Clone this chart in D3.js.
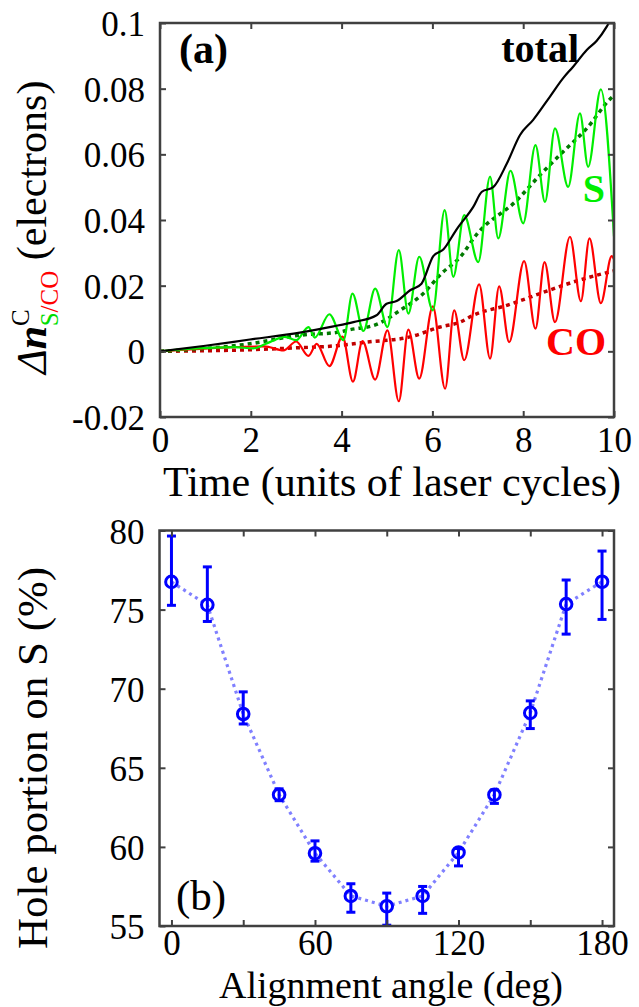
<!DOCTYPE html>
<html>
<head>
<meta charset="utf-8">
<script src="https://cdn.jsdelivr.net/npm/d3@7"></script>
<style>
  body { margin: 0; background: #fff; }
  text { font-family: "Liberation Serif", "Times New Roman", serif; }
</style>
</head>
<body>
<div id="chart"></div>
<script>
// panel (a): time in laser cycles, [t, value]
const totalPts = [[0,0],[1,0.0017],[1.98,0.0036],[3.08,0.0057],[3.82,0.0076],[4.26,0.0089],[4.77,0.011],[4.99,0.0145],[5.21,0.0153],[5.51,0.0186],[5.76,0.0206],[6.02,0.029],[6.24,0.031],[6.53,0.0371],[6.9,0.044],[7.09,0.0486],[7.34,0.050],[7.64,0.0572],[7.93,0.0659],[8.22,0.0705],[8.59,0.0776],[8.88,0.0832],[9.10,0.0867],[9.40,0.0918],[9.62,0.0946],[9.84,0.0989],[10,0.103]];
const sPts = [[0,0],[0.7,0.0008],[1.65,0.0013],[2.05,0.0009],[2.35,0.0024],[2.75,0.0044],[3.0,0.0034],[3.27,0.0074],[3.41,0.0042],[3.73,0.0113],[4.04,0.0034],[4.24,0.0176],[4.48,0.0062],[4.74,0.0191],[5.01,0.0074],[5.26,0.0308],[5.47,0.0115],[5.71,0.0288],[6.01,0.0125],[6.27,0.043],[6.46,0.0227],[6.70,0.0415],[7.01,0.0272],[7.27,0.0532],[7.45,0.0344],[7.72,0.055],[8.0,0.039],[8.27,0.0628],[8.48,0.0455],[8.70,0.0679],[8.99,0.0501],[9.25,0.0725],[9.43,0.0562],[9.71,0.0798],[10,0.035]];
const coPts = [[0,0],[1.5,0.0012],[2.3,0.0015],[2.72,0.0003],[3.0,0.0030],[3.27,-0.0014],[3.45,0.0023],[3.73,-0.0045],[4.02,0.0045],[4.25,-0.0092],[4.46,0.0031],[4.74,-0.0086],[5.01,0.0064],[5.26,-0.0152],[5.47,0.0066],[5.71,-0.0083],[6.01,0.0137],[6.28,-0.0114],[6.48,0.0125],[6.70,-0.0027],[7.03,0.0204],[7.27,-0.0022],[7.47,0.0198],[7.69,0.0028],[8.02,0.0275],[8.27,0.0069],[8.47,0.0272],[8.70,0.0089],[9.03,0.0349],[9.27,0.0153],[9.46,0.0344],[9.71,0.0147],[9.95,0.029],[10,0.028]];
const sAvgPts = [[0,0],[1.98,0.0023],[3.08,0.0049],[3.96,0.0059],[4.19,0.0066],[4.77,0.0082],[5.29,0.0125],[5.8,0.0176],[6.2,0.0237],[6.61,0.0287],[6.98,0.0357],[7.86,0.046],[8.37,0.0537],[8.88,0.0608],[9.4,0.0679],[9.91,0.0768],[10,0.078]];
const coAvgPts = [[0,0],[2,0.0005],[2.9,0.001],[3.96,0.0018],[4.55,0.0028],[5.51,0.0044],[6.17,0.0074],[6.61,0.0089],[6.9,0.011],[7.64,0.014],[8.37,0.0176],[9.1,0.0211],[9.91,0.0242],[10,0.0245]];
const timeTicks = [0, 2, 4, 6, 8, 10];
const deltaTicks = [-0.02, 0, 0.02, 0.04, 0.06, 0.08, 0.1];

// panel (b): hole portion on S vs alignment angle
const angles = [0, 15, 30, 45, 60, 75, 90, 105, 120, 135, 150, 165, 180];
const portion = [76.75, 75.3, 68.4, 63.3, 59.6, 56.9, 56.25, 56.9, 59.65, 63.3, 68.47, 75.35, 76.76];
const errLow = [75.27, 74.25, 67.77, 62.92, 59.1, 55.87, 55.05, 55.8, 58.8, 62.75, 67.48, 73.45, 74.38];
const errHigh = [79.65, 77.7, 69.8, 63.67, 60.38, 57.67, 57.08, 57.5, 59.9, 63.6, 69.23, 76.87, 78.7];
const angleTicks = [0, 30, 60, 90, 120, 150, 180];
const portionTicks = [55, 60, 65, 70, 75, 80];

const W = 639, H = 1007;
const svg = d3.select("#chart").append("svg").attr("width", W).attr("height", H);
const frameColor = "#404040";

// ---------- panel (a) ----------
const xA = d3.scaleLinear().domain([0, 10]).range([160, 614]);
const yA = d3.scaleLinear().domain([-0.02, 0.1]).range([417, 23]);

svg.append("clipPath").attr("id", "clipA").append("rect")
    .attr("x", 160).attr("y", 23).attr("width", 454).attr("height", 394);

const gA = svg.append("g").attr("clip-path", "url(#clipA)");
const lineA = d3.line().x(d => xA(d[0])).y(d => yA(d[1])).curve(d3.curveMonotoneX);

gA.append("path").datum(coAvgPts).attr("d", lineA)
    .attr("fill", "none").attr("stroke", "#c00000").attr("stroke-width", 3.5).attr("stroke-dasharray", "4,4");
gA.append("path").datum(sAvgPts).attr("d", lineA)
    .attr("fill", "none").attr("stroke", "#007a00").attr("stroke-width", 3.5).attr("stroke-dasharray", "4,4");
gA.append("path").datum(coPts).attr("d", lineA)
    .attr("fill", "none").attr("stroke", "#ff0000").attr("stroke-width", 2.2);
gA.append("path").datum(sPts).attr("d", lineA)
    .attr("fill", "none").attr("stroke", "#00ee00").attr("stroke-width", 2.2);
gA.append("path").datum(totalPts).attr("d", lineA)
    .attr("fill", "none").attr("stroke", "#000").attr("stroke-width", 2.2);

function frameAxes(x, y, xt, yt, xfmt, yfmt, x0, x1, y0, y1, xLabelY) {
    const bottom = svg.append("g").attr("transform", `translate(0,${y0})`)
        .call(d3.axisBottom(x).tickValues(xt).tickSize(-6).tickPadding(0).tickFormat(xfmt));
    bottom.selectAll("text").attr("y", xLabelY - y0).attr("dy", 0);
    bottom.selectAll("text").filter(function () { return this.textContent === ""; }).remove();
    svg.append("g").attr("transform", `translate(0,${y1})`)
        .call(d3.axisTop(x).tickValues(xt).tickSize(-6).tickFormat(""))
        .selectAll("text").remove();
    const left = svg.append("g").attr("transform", `translate(${x0},0)`)
        .call(d3.axisLeft(y).tickValues(yt).tickSize(-6).tickPadding(15).tickFormat(yfmt));
    left.selectAll("text").attr("dy", "0.36em");
    svg.append("g").attr("transform", `translate(${x1},0)`)
        .call(d3.axisRight(y).tickValues(yt).tickSize(-6).tickFormat(""))
        .selectAll("text").remove();
    svg.selectAll(".domain").remove();
    svg.selectAll(".tick line").attr("stroke", frameColor).attr("stroke-width", 2);
    svg.selectAll(".tick text").attr("fill", "#000").style("font-size", "35px")
        .style("font-family", "'Liberation Serif', serif");
    svg.append("rect").attr("x", x0).attr("y", y1).attr("width", x1 - x0).attr("height", y0 - y1)
        .attr("fill", "none").attr("stroke", frameColor).attr("stroke-width", 2.5);
}

frameAxes(xA, yA, timeTicks, deltaTicks, d3.format("d"), d => d === 0 ? "0" : String(d),
    160, 614, 417, 23, 452);

svg.append("text").attr("x", 179).attr("y", 63).style("font-size", "42px").style("font-weight", "bold").text("(a)");
svg.append("text").attr("x", 579).attr("y", 62).attr("text-anchor", "end").style("font-size", "40px").style("font-weight", "bold").text("total");
svg.append("text").attr("x", 605).attr("y", 202).attr("text-anchor", "end").attr("fill", "#00ee00").style("font-size", "40px").style("font-weight", "bold").text("S");
svg.append("text").attr("x", 606).attr("y", 355).attr("text-anchor", "end").attr("fill", "#ff0000").style("font-size", "40px").style("font-weight", "bold").text("CO");

svg.append("text").attr("x", 392).attr("y", 496).attr("text-anchor", "middle").style("font-size", "42px")
    .text("Time (units of laser cycles)");

const yTitleA = svg.append("text").attr("transform", "translate(46,374) rotate(-90)").style("font-size", "42px");
yTitleA.append("tspan").style("font-style", "italic").text("Δ");
yTitleA.append("tspan").style("font-style", "italic").style("font-weight", "bold").text("n");
yTitleA.append("tspan").attr("dy", -17).style("font-size", "25px").text("C");
yTitleA.append("tspan").attr("dx", -17).attr("dy", 29).style("font-size", "25px").attr("fill", "#00dd00").text("S");
yTitleA.append("tspan").style("font-size", "25px").attr("fill", "#ff0000").text("/CO");
yTitleA.append("tspan").attr("dy", -12).text(" (electrons)");

// ---------- panel (b) ----------
const xB = d3.scaleLinear().domain([-5, 185]).range([159.5, 614]);
const yB = d3.scaleLinear().domain([55, 80]).range([926, 530.5]);

const pts = angles.map((a, i) => ({ a, v: portion[i], lo: errLow[i], hi: errHigh[i] }));

svg.append("path").datum(pts)
    .attr("d", d3.line().x(d => xB(d.a)).y(d => yB(d.v)))
    .attr("fill", "none").attr("stroke", "#8080ff").attr("stroke-width", 3.2).attr("stroke-dasharray", "3,4");

const eb = svg.append("g").attr("stroke", "#0000ff").attr("stroke-width", 3).attr("fill", "none");
eb.selectAll("line.v").data(pts).enter().append("line").attr("class", "v")
    .attr("x1", d => xB(d.a)).attr("x2", d => xB(d.a)).attr("y1", d => yB(d.lo)).attr("y2", d => yB(d.hi));
eb.selectAll("line.t").data(pts).enter().append("line").attr("class", "t")
    .attr("x1", d => xB(d.a) - 4.5).attr("x2", d => xB(d.a) + 4.5).attr("y1", d => yB(d.hi)).attr("y2", d => yB(d.hi));
eb.selectAll("line.b").data(pts).enter().append("line").attr("class", "b")
    .attr("x1", d => xB(d.a) - 4.5).attr("x2", d => xB(d.a) + 4.5).attr("y1", d => yB(d.lo)).attr("y2", d => yB(d.lo));
eb.selectAll("circle").data(pts).enter().append("circle")
    .attr("cx", d => xB(d.a)).attr("cy", d => yB(d.v)).attr("r", 5.8);

frameAxes(xB, yB, angleTicks, portionTicks, d => d % 60 === 0 ? String(d) : "", d3.format("d"),
    159.5, 614, 926, 530.5, 955);

svg.append("text").attr("x", 176).attr("y", 910).style("font-size", "43px").text("(b)");
svg.append("text").attr("x", 391).attr("y", 998).attr("text-anchor", "middle").style("font-size", "38px")
    .text("Alignment angle (deg)");
svg.append("text").attr("transform", "translate(47,758) rotate(-90)").attr("text-anchor", "middle")
    .style("font-size", "43px").text("Hole portion on S (%)");
</script>
</body>
</html>
